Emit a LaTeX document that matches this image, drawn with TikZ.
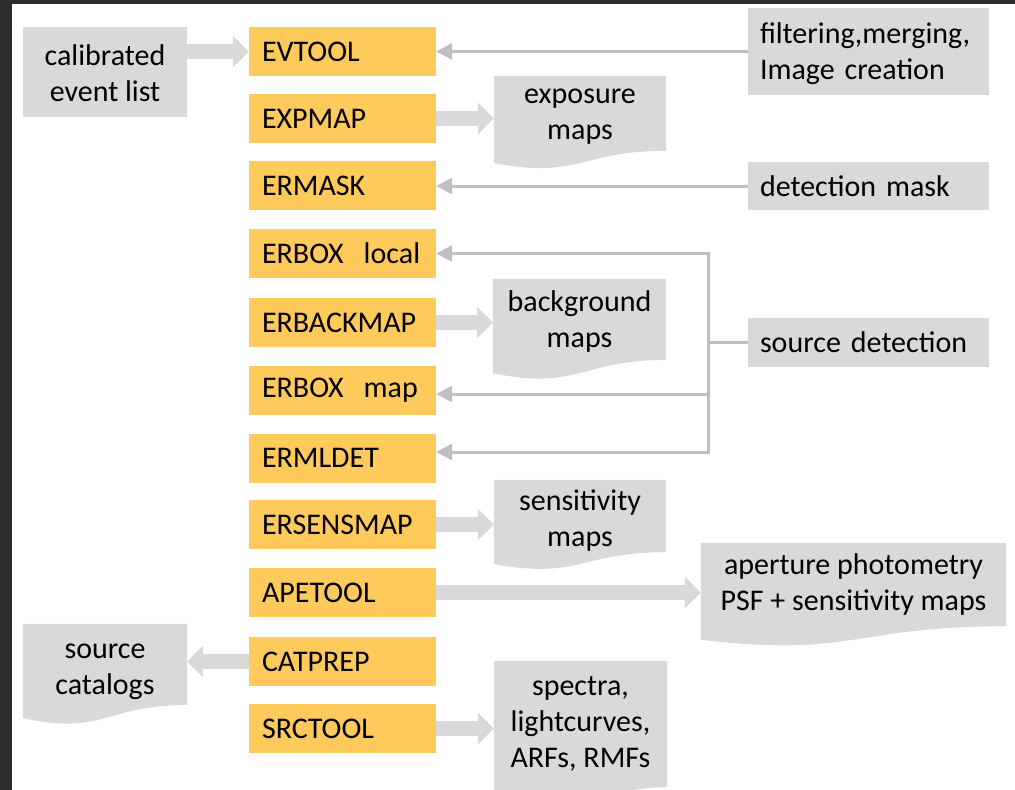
\documentclass[tikz,border=0pt]{standalone}
\usepackage{fontspec}
\setmainfont{Carlito}
\usetikzlibrary{arrows.meta,calc,backgrounds}
\definecolor{orangeC}{RGB}{255,202,92}
\definecolor{boxgray}{RGB}{217,217,217}
\definecolor{linegray}{RGB}{191,191,191}
\definecolor{frameC}{RGB}{45,45,45}
% document shape behind node #1; #2,#3 wave offsets; #4 text offset (shape is drawn #4 higher than node)
\newcommand\docshape[4]{\fill[boxgray] ($(#1.north west)+(0,-#4)$) -- ($(#1.north east)+(0,-#4)$) -- ($(#1.south east)+(0,-#4)$) .. controls ($(#1.south)+(0,-#4)$) and ($(#1.south)+(0,#2-#4)$) .. ($(#1.south west)+(0,#3-#4)$) -- cycle;}
\newcommand\rectshape[2]{\fill[boxgray] ($(#1.north west)+(0,-#2)$) rectangle ($(#1.south east)+(0,-#2)$);}
\begin{document}
\begin{tikzpicture}[x=1pt,y=-1pt,
 every node/.style={font=\fontsize{30}{36}\selectfont, inner sep=0pt},
 obox/.style={fill=orangeC, minimum width=187pt, minimum height=49pt, text width=161pt, inner xsep=13pt, align=left},
 gbox/.style={align=center},
 rtext/.style={text width=217pt, inner xsep=12pt, minimum width=241pt, align=left},
 rbox/.style={rtext, fill=boxgray},
 doc/.style={align=center},
 fat/.style={draw=boxgray, line width=15pt, -{Triangle[length=16pt,width=31pt]}},
 thin/.style={draw=linegray, line width=3pt, -{Triangle[length=16pt,width=16pt]}},
 link/.style={draw=linegray, line width=3pt}]
\useasboundingbox (0,0) rectangle (1015,790);
\fill[frameC] (0,0) rectangle (12,790);
\fill[frameC] (0,0) rectangle (1015,4);

% orange tool boxes
\node[obox] (evtool)   at (342.5,51.5)  {EVTOOL};
\node[obox] (expmap)   at (342.5,118.5) {EXPMAP};
\node[obox] (ermask)   at (342.5,185.5) {ERMASK};
\node[obox] (erboxl)   at (342.5,253.5) {ERBOX\ \ local};
\node[obox] (erback)   at (342.5,322.5) {ERBACKMAP};
\node[obox] (erboxm)   at (342.5,390.5) {ERBOX\ \ map};
\node[obox] (ermldet)  at (342.5,458)   {ERMLDET};
\node[obox] (ersens)   at (342.5,524.5) {ERSENSMAP};
\node[obox] (apetool)  at (342.5,592.5) {APETOOL};
\node[obox] (catprep)  at (342.5,661.5) {CATPREP};
\node[obox] (srctool)  at (342.5,728.5) {SRCTOOL};

% gray rectangles
\node[gbox, minimum width=164pt, minimum height=90pt] (calib) at (105,73) {calibrated\\event list};
\node[rtext, minimum height=87pt] (filt) at (868.5,53.5) {filtering,merging,\\Image creation};
\node[rbox, minimum height=48pt] (detmask) at (868.5,186) {detection mask};
\node[rbox, minimum height=49pt] (srcdet) at (868.5,342.5) {source detection};

% document boxes (upper part as node, placed lower by the text offset)
\node[doc, minimum width=172pt, minimum height=74.6pt] (expo) at (580,116.8) {exposure\\maps};
\node[doc, minimum width=173pt, minimum height=80.7pt] (back) at (579.5,321.4) {background\\maps};
\node[doc, minimum width=172pt, minimum height=72pt] (sens) at (580,521) {sensitivity\\maps};
\node[doc, minimum width=305pt, minimum height=83pt] (aper) at (853.5,584.5) {aperture photometry\\PSF + sensitivity maps};
\node[doc, minimum width=164pt, minimum height=80.7pt] (cat) at (105,671.4) {source\\catalogs};
\node[doc, minimum width=173pt, minimum height=126pt] (spec) at (580.5,724) {spectra,\\lightcurves,\\ARFs, RMFs};

\begin{scope}[on background layer]
\rectshape{calib}{1}
\rectshape{filt}{2}
\docshape{expo}{28.4}{12.3}{3.5}
\docshape{back}{30.7}{13.3}{2}
\docshape{sens}{27.5}{11.9}{5}
\docshape{aper}{31.5}{13.6}{0}
\docshape{cat}{30.7}{13.3}{7}
\docshape{spec}{48}{20.7}{0}
\end{scope}

% fat arrows
\draw[fat] (calib.east |- evtool.west) -- (evtool.west);
\draw[fat] (expmap.east) -- (expo.west |- expmap.east);
\draw[fat] (erback.east) -- (back.west |- erback.east);
\draw[fat] (ersens.east) -- (sens.west |- ersens.east);
\draw[fat] (apetool.east) -- (aper.west |- apetool.east);
\draw[fat] (catprep.west) -- (cat.east |- catprep.west);
\draw[fat] (srctool.east) -- (spec.west |- srctool.east);

% thin connectors
\draw[thin] (filt.west |- evtool.east) -- (evtool.east);
\draw[thin] (detmask.west) -- (ermask.east |- detmask.west);
\coordinate (j) at (708.5,342.5);
\draw[link] (srcdet.west) -- (j);
\draw[thin] (j) |- (erboxl.east);
\draw[thin] (j) |- ([yshift=-3.5pt]erboxm.east);
\draw[thin] (j) |- ([yshift=6pt]ermldet.east);
\end{tikzpicture}
\end{document}
